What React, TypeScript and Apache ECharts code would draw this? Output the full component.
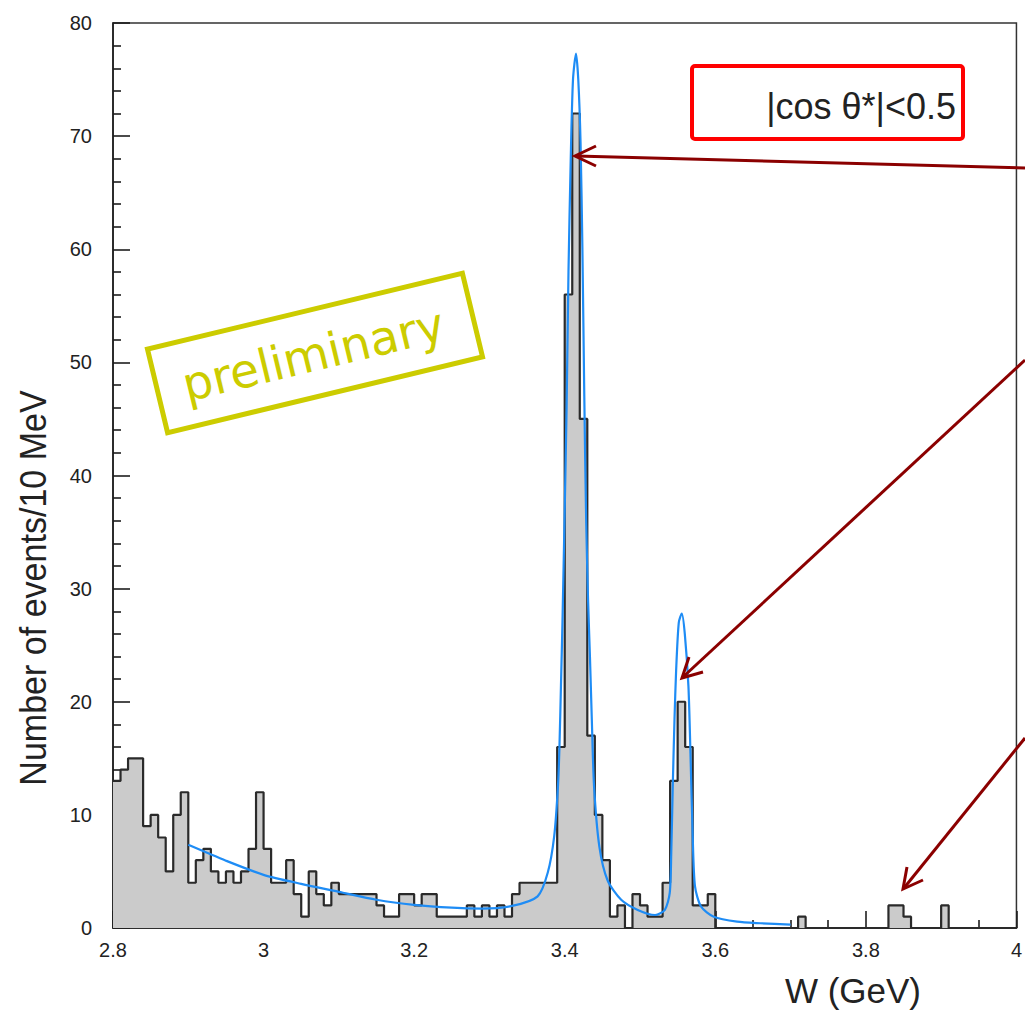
import React, { useEffect, useRef } from "react";
import * as echarts from "echarts";

// Histogram: events per 10 MeV bin, W from 2.80 to 4.00 GeV
const W_MIN = 2.8;
const W_MAX = 4.0;
const BIN_WIDTH = 0.01;
const counts = [
  13, 14, 15, 15, 9, 10, 8, 5, 10, 12,
  4, 6, 7, 5, 4, 5, 4, 5, 7, 12,
  7, 4, 4, 6, 3, 1, 5, 3, 2, 4,
  3, 3, 3, 3, 3, 2, 1, 1, 3, 3,
  2, 3, 3, 1, 1, 1, 1, 2, 1, 2,
  1, 2, 1, 3, 4, 4, 4, 4, 4, 16,
  56, 72, 45, 17, 10, 6, 1, 2, 0, 3,
  2, 1, 1, 4, 13, 20, 16, 2, 2, 3,
  0, 0, 0, 0, 0, 0, 0, 0, 0, 0,
  0, 1, 0, 0, 0, 0, 0, 0, 0, 0,
  0, 0, 0, 2, 2, 1, 0, 0, 0, 0,
  2, 0, 0, 0, 0, 0, 0, 0, 0, 0,
];

// Fit curve
const fitW = [
  2.9, 2.95, 3.0, 3.05, 3.1, 3.15, 3.2, 3.25, 3.29, 3.33, 3.364, 3.3775, 3.386,
  3.391, 3.393, 3.395, 3.397, 3.4, 3.4025, 3.405, 3.408, 3.411, 3.415, 3.418,
  3.421, 3.4235, 3.426, 3.4285, 3.431, 3.4335, 3.436, 3.439, 3.446, 3.457,
  3.475, 3.497, 3.52, 3.533, 3.5395, 3.5415, 3.5435, 3.5458, 3.548, 3.5515,
  3.5555, 3.5595, 3.5643, 3.567, 3.57, 3.573, 3.581, 3.598, 3.629, 3.66, 3.7,
];
const fitY = [
  7.35, 5.95, 4.7, 3.9, 3.2, 2.5, 2.05, 1.8, 1.72, 1.95, 2.8, 4.9, 8.1,
  12.5, 16, 21.4, 27, 37, 46, 58, 68, 75, 77.3, 75,
  69.5, 60, 47, 36, 29, 24, 18.4, 12.5, 7.2, 4.2,
  2.5, 1.6, 1.15, 1.6, 3.1, 6.6, 12.5, 18.4, 22.8, 27,
  27.8, 26, 21.4, 15.5, 8.1, 3.7, 1.9, 1.0, 0.56, 0.42, 0.3,
];

const Y_MAX = 80;
const Y_STEP = 10;
const X_STEP = 0.2;

const FONT = '"Liberation Sans", Arial, Helvetica, sans-serif';
const ARROW = "#8b0000";
const AXIS_COLOR = "#1e1e1e";

function arrow(pts: number[][], head: number[][]) {
  return [
    {
      type: "polyline",
      shape: { points: pts },
      style: { stroke: ARROW, lineWidth: 3, fill: null },
      z: 100,
    },
    {
      type: "polyline",
      shape: { points: head },
      style: { stroke: ARROW, lineWidth: 3, fill: null },
      z: 100,
    },
  ];
}

export default function App() {
  const ref = useRef<HTMLDivElement>(null);

  useEffect(() => {
    if (!ref.current) return;
    const chart = echarts.init(ref.current, null, { renderer: "svg" });

    const histData: number[][] = counts.map((c, i) => [
      +(W_MIN + i * BIN_WIDTH).toFixed(2),
      c,
    ]);
    histData.push([W_MAX, counts[counts.length - 1]]);
    const fitData = fitW.map((w, i) => [w, fitY[i]]);

    const option: any = {
      animation: false,
      backgroundColor: "#ffffff",
      grid: {
        left: 113,
        top: 23,
        right: 5,
        bottom: 84,
        show: true,
        borderColor: "#333",
        borderWidth: 1.5,
        backgroundColor: "transparent",
      },
      xAxis: {
        type: "value",
        min: W_MIN,
        max: W_MAX,
        interval: X_STEP,
        axisLine: { show: true, onZero: false, lineStyle: { color: AXIS_COLOR, width: 1.6 } },
        axisTick: { show: true, inside: true, length: 17, lineStyle: { color: AXIS_COLOR, width: 1.6 } },
        minorTick: { show: true, splitNumber: 4, length: 8, lineStyle: { color: AXIS_COLOR, width: 1.6 } },
        splitLine: { show: false },
        axisLabel: {
          show: true,
          margin: 12,
          fontSize: 20,
          color: "#222",
          fontFamily: FONT,
          showMinLabel: true,
          showMaxLabel: true,
        },
      },
      yAxis: {
        type: "value",
        min: 0,
        max: Y_MAX,
        interval: Y_STEP,
        axisLine: { show: true, lineStyle: { color: AXIS_COLOR, width: 1.6 } },
        axisTick: { show: true, inside: true, length: 17, lineStyle: { color: AXIS_COLOR, width: 1.6 } },
        minorTick: { show: true, splitNumber: 5, length: 8, lineStyle: { color: AXIS_COLOR, width: 1.6 } },
        splitLine: { show: false },
        axisLabel: {
          show: true,
          margin: 21,
          fontSize: 20,
          color: "#222",
          fontFamily: FONT,
          showMinLabel: true,
          showMaxLabel: true,
        },
      },
      series: [
        {
          name: "data",
          type: "line",
          step: "end",
          data: histData,
          showSymbol: false,
          symbol: "none",
          lineStyle: { color: "#2a2a2a", width: 2.2 },
          areaStyle: { color: "#cbcbcb", opacity: 1 },
          z: 2,
        },
        {
          name: "fit",
          type: "line",
          data: fitData,
          smooth: 0.25,
          showSymbol: false,
          symbol: "none",
          lineStyle: { color: "#1e8cf5", width: 2.2 },
          z: 3,
        },
      ],
      graphic: [
        {
          type: "text",
          x: 34,
          y: 588,
          rotation: Math.PI / 2,
          scaleX: 0.92,
          style: {
            text: "Number of events/10 MeV",
            font: `37px ${FONT}`,
            fill: "#222",
            align: "center",
            verticalAlign: "middle",
          },
        },
        {
          type: "text",
          x: 921,
          y: 990,
          style: {
            text: "W (GeV)",
            font: `35px ${FONT}`,
            fill: "#222",
            align: "right",
            verticalAlign: "middle",
          },
        },
        {
          type: "rect",
          shape: { x: 692, y: 66, width: 271, height: 73, r: 3 },
          style: { stroke: "#ff0000", lineWidth: 4, fill: "#ffffff" },
          z: 50,
        },
        {
          type: "text",
          x: 956,
          y: 106,
          style: {
            text: "|cos θ*|<0.5",
            font: `36px ${FONT}`,
            fill: "#222",
            align: "right",
            verticalAlign: "middle",
          },
          z: 51,
        },
        {
          type: "group",
          x: 315,
          y: 353,
          rotation: 0.2367,
          z: 60,
          children: [
            {
              type: "rect",
              shape: { x: -162, y: -43, width: 324, height: 86 },
              style: { stroke: "#cccc00", lineWidth: 5, fill: "rgba(255,255,255,0)" },
            },
            {
              type: "text",
              x: -2,
              y: 1,
              style: {
                text: "preliminary",
                font: '47px "DejaVu Sans", sans-serif',
                fill: "#cccc00",
                align: "center",
                verticalAlign: "middle",
              },
            },
          ],
        },
        ...arrow(
          [
            [1025, 168],
            [576, 156],
          ],
          [
            [596, 146],
            [575, 156],
            [596, 166],
          ]
        ),
        ...arrow(
          [
            [1025, 360],
            [683, 677],
          ],
          [
            [689, 657],
            [682, 678],
            [703, 672],
          ]
        ),
        ...arrow(
          [
            [1025, 738],
            [904, 888],
          ],
          [
            [907, 867],
            [903, 889],
            [923, 880],
          ]
        ),
      ],
    };

    chart.setOption(option);
    return () => chart.dispose();
  }, []);

  return (
    <div
      ref={ref}
      style={{ position: "fixed", left: 0, top: 0, width: 1025, height: 1012, background: "#fff" }}
    />
  );
}
